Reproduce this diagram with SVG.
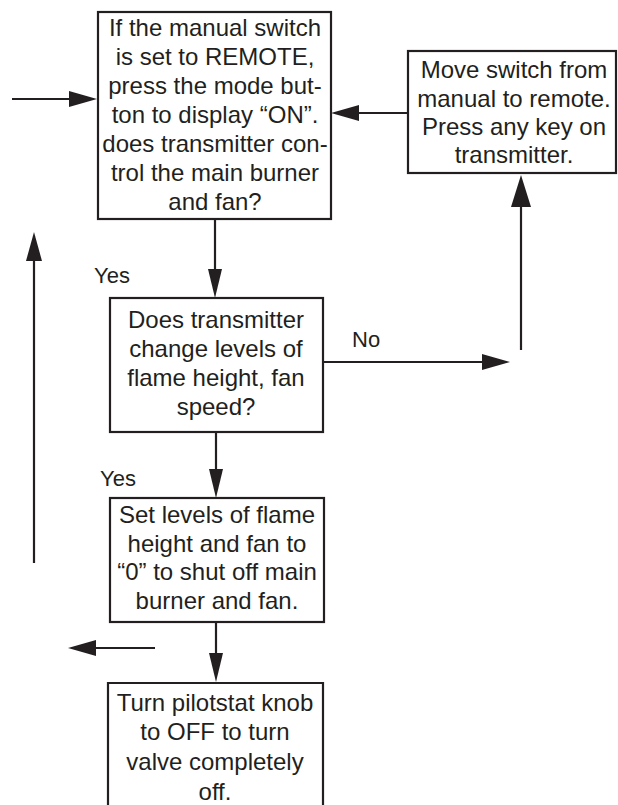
<svg xmlns="http://www.w3.org/2000/svg" width="618" height="805" viewBox="0 0 618 805">
<style>
.box{fill:#fff;stroke:#231f20;stroke-width:2.2}
.t{font-family:"Liberation Sans",Arial,sans-serif;font-size:24px;fill:#231f20;text-anchor:middle}
.l{font-family:"Liberation Sans",Arial,sans-serif;font-size:22px;fill:#231f20}
.c{stroke:#231f20;stroke-width:2.2;fill:none}
.h{fill:#231f20}
</style>
<rect width="618" height="805" fill="#fff"/>
<g id="n1">
<rect class="box" x="98" y="12" width="233" height="207"/>
<text class="t" x="215" y="36">If the manual switch</text>
<text class="t" x="215" y="65">is set to REMOTE,</text>
<text class="t" x="215" y="94">press the mode but-</text>
<text class="t" x="215" y="123">ton to display “ON”.</text>
<text class="t" x="215" y="152">does transmitter con-</text>
<text class="t" x="215" y="181">trol the main burner</text>
<text class="t" x="215" y="210">and fan?</text>
</g>
<g id="n2">
<rect class="box" x="408" y="51" width="208" height="122"/>
<text class="t" x="514" y="78">Move switch from</text>
<text class="t" x="514" y="107">manual to remote.</text>
<text class="t" x="514" y="135">Press any key on</text>
<text class="t" x="514" y="163">transmitter.</text>
</g>
<g id="n3">
<rect class="box" x="110" y="298" width="213" height="134"/>
<text class="t" x="216" y="328">Does transmitter</text>
<text class="t" x="216" y="357">change levels of</text>
<text class="t" x="216" y="386">flame height, fan</text>
<text class="t" x="216" y="415">speed?</text>
</g>
<g id="n4">
<rect class="box" x="110" y="498" width="214" height="124"/>
<text class="t" x="217" y="523">Set levels of flame</text>
<text class="t" x="217" y="552">height and fan to</text>
<text class="t" x="217" y="580">“0” to shut off main</text>
<text class="t" x="217" y="609">burner and fan.</text>
</g>
<g id="n5">
<path class="box" d="M108,810 V683 H323 V810"/>
<text class="t" x="215" y="711">Turn pilotstat knob</text>
<text class="t" x="215" y="740">to OFF to turn</text>
<text class="t" x="215" y="770">valve completely</text>
<text class="t" x="215" y="800">off.</text>
</g>
<g id="connectors">
<line class="c" x1="12" y1="99" x2="72" y2="99"/>
<polygon class="h" points="97,99 69,91 69,107"/>
<line class="c" x1="358" y1="113" x2="408" y2="113"/>
<polygon class="h" points="331,113 359,105 359,121"/>
<line class="c" x1="215" y1="219" x2="215" y2="272"/>
<polygon class="h" points="215,298 208,269 222,269"/>
<line class="c" x1="323" y1="362" x2="484" y2="362"/>
<polygon class="h" points="510,362 482,354 482,370"/>
<line class="c" x1="521" y1="205" x2="521" y2="350"/>
<polygon class="h" points="521,175 511,207 531,207"/>
<line class="c" x1="216" y1="432" x2="216" y2="472"/>
<polygon class="h" points="216,498 209,469 223,469"/>
<line class="c" x1="34" y1="258" x2="34" y2="563"/>
<polygon class="h" points="34,232 26,261 42,261"/>
<line class="c" x1="216" y1="622" x2="216" y2="656"/>
<polygon class="h" points="216,682 209,653 223,653"/>
<line class="c" x1="94" y1="648" x2="155" y2="648"/>
<polygon class="h" points="68,648 96,640 96,656"/>
<text class="l" x="94" y="283">Yes</text>
<text class="l" x="352" y="347">No</text>
<text class="l" x="100" y="486">Yes</text>
</g>
</svg>
